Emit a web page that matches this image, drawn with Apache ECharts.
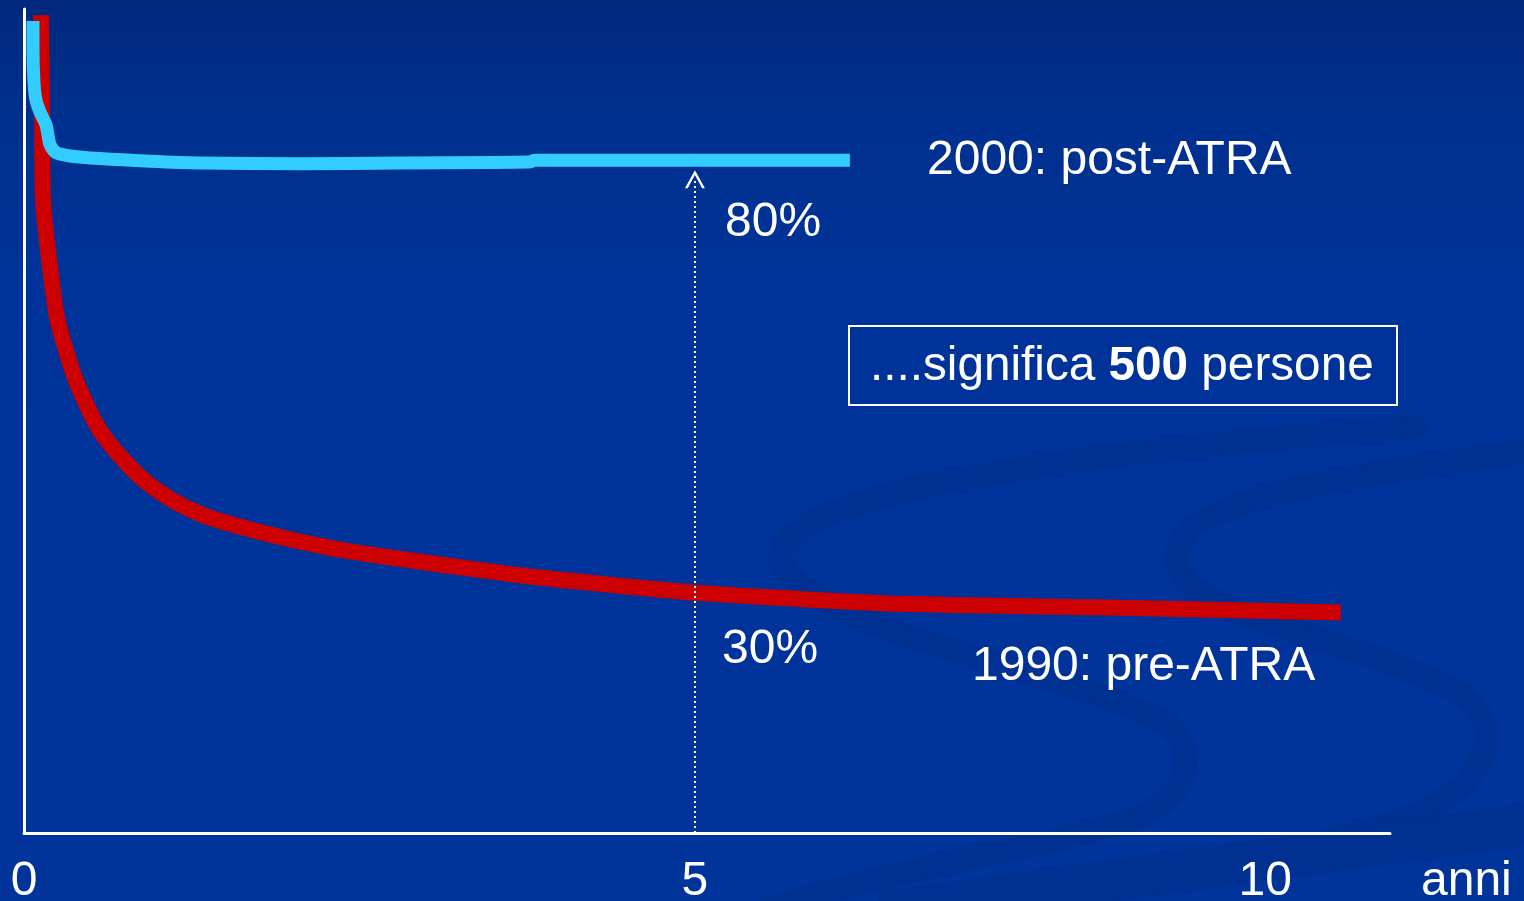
<!DOCTYPE html>
<html>
<head>
<meta charset="utf-8">
<title>Sopravvivenza: pre-ATRA vs post-ATRA</title>
<script src="https://cdn.jsdelivr.net/npm/echarts@6/dist/echarts.min.js"></script>
<style>
  html, body { margin: 0; padding: 0; background: #003399; }
  #chart { width: 1524px; height: 901px; }
</style>
</head>
<body>
<div id="chart"></div>
<script>
// Survival curves (years from diagnosis, % alive)
const preName = '1990: pre-ATRA';
const preYears = [0.127, 0.134, 0.142, 0.179, 0.246, 0.313, 0.395, 0.581, 0.924, 1.311, 1.811, 2.310, 2.809, 3.308, 3.808, 4.307, 5.0, 5.633, 6.527, 7.98, 9.814];
const preSurvival = [96.8, 87.0, 75.4, 69.6, 61.8, 58.0, 54.2, 48.4, 42.6, 39.1, 36.8, 35.1, 33.9, 32.8, 31.8, 31.0, 30.0, 29.4, 28.7, 28.3, 27.7];

const postName = '2000: post-ATRA';
const postYears = [0.067, 0.067, 0.075, 0.089, 0.119, 0.164, 0.179, 0.194, 0.238, 0.343, 0.566, 0.939, 1.311, 2.057, 2.80, 3.763, 3.808, 5.0, 6.155];
const postSurvival = [96.1, 92.7, 88.9, 87.0, 85.6, 84.1, 82.9, 81.8, 80.9, 80.5, 80.2, 79.9, 79.7, 79.6, 79.7, 79.8, 80.0, 80.0, 80.0];

// Year highlighted by the dotted arrow
const markYear = 5;

// x axis tick labels and where they sit
const xTickLabels = ['0', '5', '10'];
const xTickAt = [0, 5, 9.25];
const xAxisName = 'anni';

// Axis ranges
const X_MIN = 0, X_MAX = 10.18;
const Y_MIN = 2.2, Y_MAX = 97.5;

const boxText = ['....significa ', '500', ' persone'];

const FONT = '"Liberation Sans", Arial, Helvetica, sans-serif';
const FS = 48;

const zip = (xs, ys) => xs.map((x, i) => [x, ys[i]]);
const valueAt = (xs, ys, x) => ys[xs.indexOf(x)];

const preAt = valueAt(preYears, preSurvival, markYear);
const postAt = valueAt(postYears, postSurvival, markYear);

const chart = echarts.init(document.getElementById('chart'), null, { renderer: 'canvas' });

// chevron arrow head (outline only)
const chevron = 'path://M0,18 L10,0 L20,18 L17.2,18 L10,4.6 L2.8,18 Z';

const ribbon = '#003092';

const label = (text, x, y) => ({
  type: 'text', z: 10, silent: true, x, y,
  style: { text, fill: '#fff', fontSize: FS, fontFamily: FONT, align: 'left', verticalAlign: 'middle' }
});

const option = {
  animation: false,
  backgroundColor: {
    type: 'linear', x: 0, y: 0, x2: 0, y2: 1,
    colorStops: [
      { offset: 0, color: '#00297d' },
      { offset: 0.14, color: '#00308f' },
      { offset: 0.32, color: '#003399' },
      { offset: 1, color: '#00349b' }
    ]
  },
  grid: { left: 24, right: 134, top: 9, bottom: 68, outerBoundsMode: 'none', containLabel: false },
  xAxis: {
    type: 'value',
    min: X_MIN, max: X_MAX,
    name: xAxisName,
    nameLocation: 'end',
    nameGap: 31,
    nameTextStyle: { color: '#fff', fontSize: FS, fontFamily: FONT, verticalAlign: 'top', align: 'left', padding: [25, 0, 0, 0] },
    axisLine: { onZero: false, lineStyle: { color: '#fff', width: 3 } },
    axisTick: { show: false },
    splitLine: { show: false },
    axisLabel: {
      customValues: xTickAt,
      formatter: (v) => xTickLabels[xTickAt.indexOf(v)] ?? '',
      color: '#fff', fontSize: FS, fontFamily: FONT, margin: 25
    }
  },
  yAxis: {
    type: 'value',
    min: Y_MIN, max: Y_MAX,
    axisLine: { show: true, lineStyle: { color: '#fff', width: 3 } },
    axisTick: { show: false },
    axisLabel: { show: false },
    splitLine: { show: false }
  },
  graphic: {
    elements: [
      // background swirl ribbons
      { type: 'polyline', z: -10, silent: true,
        shape: { smooth: 0.45, points: [[1415, 427], [1193, 447], [996, 473], [849, 507], [789, 540], [784, 567], [849, 613], [996, 663], [1144, 713], [1183, 747], [1169, 797], [1095, 830], [947, 863], [799, 900], [720, 930]] },
        style: { stroke: ribbon, lineWidth: 24, fill: null, lineCap: 'round' } },
      { type: 'polyline', z: -10, silent: true,
        shape: { smooth: 0.45, points: [[1540, 450], [1341, 480], [1218, 513], [1179, 547], [1193, 587], [1292, 630], [1415, 673], [1479, 713], [1479, 763], [1430, 807], [1366, 830], [1300, 850]] },
        style: { stroke: ribbon, lineWidth: 24, fill: null, lineCap: 'round' } },
      { type: 'polyline', z: -10, silent: true,
        shape: { points: [[880, 912], [1540, 823]] },
        style: { stroke: ribbon, lineWidth: 42, fill: null } },

      // legend box
      { type: 'rect', z: 10, silent: true,
        shape: { x: 849, y: 326, width: 548, height: 79 },
        style: { stroke: '#fff', lineWidth: 2, fill: null } },
      { type: 'text', z: 10, silent: true, x: 870, y: 367,
        style: {
          text: '{n|' + boxText[0] + '}{b|' + boxText[1] + '}{n|' + boxText[2] + '}',
          verticalAlign: 'middle', align: 'left',
          rich: {
            n: { fill: '#fff', fontSize: 47.7, fontFamily: FONT },
            b: { fill: '#fff', fontSize: 47.7, fontFamily: FONT, fontWeight: 'bold' }
          }
        } },

      // series names
      label(postName, 927, 161),
      label(preName, 972, 667),

      // survival at the marked year
      label(postAt + '%', 725, 223),
      label(preAt + '%', 722, 650)
    ]
  },
  series: [
    {
      name: preName,
      type: 'line',
      data: zip(preYears, preSurvival),
      showSymbol: false,
      smooth: 0.3,
      z: 3,
      lineStyle: { color: '#cc0000', width: 16, cap: 'butt', join: 'round' },
      emphasis: { disabled: true }
    },
    {
      name: postName,
      type: 'line',
      data: zip(postYears, postSurvival),
      showSymbol: false,
      smooth: 0.3,
      z: 4,
      lineStyle: { color: '#33ccff', width: 13, cap: 'butt', join: 'round' },
      emphasis: { disabled: true },
      markLine: {
        silent: true,
        symbol: ['none', chevron],
        symbolSize: [20, 18],
        label: { show: false },
        lineStyle: { color: '#fff', width: 2, type: [2, 3], opacity: 1 },
        data: [[{ coord: [markYear, Y_MIN] }, { coord: [markYear, postAt - 2.2] }]]
      }
    }
  ]
};

chart.setOption(option);
</script>
</body>
</html>
